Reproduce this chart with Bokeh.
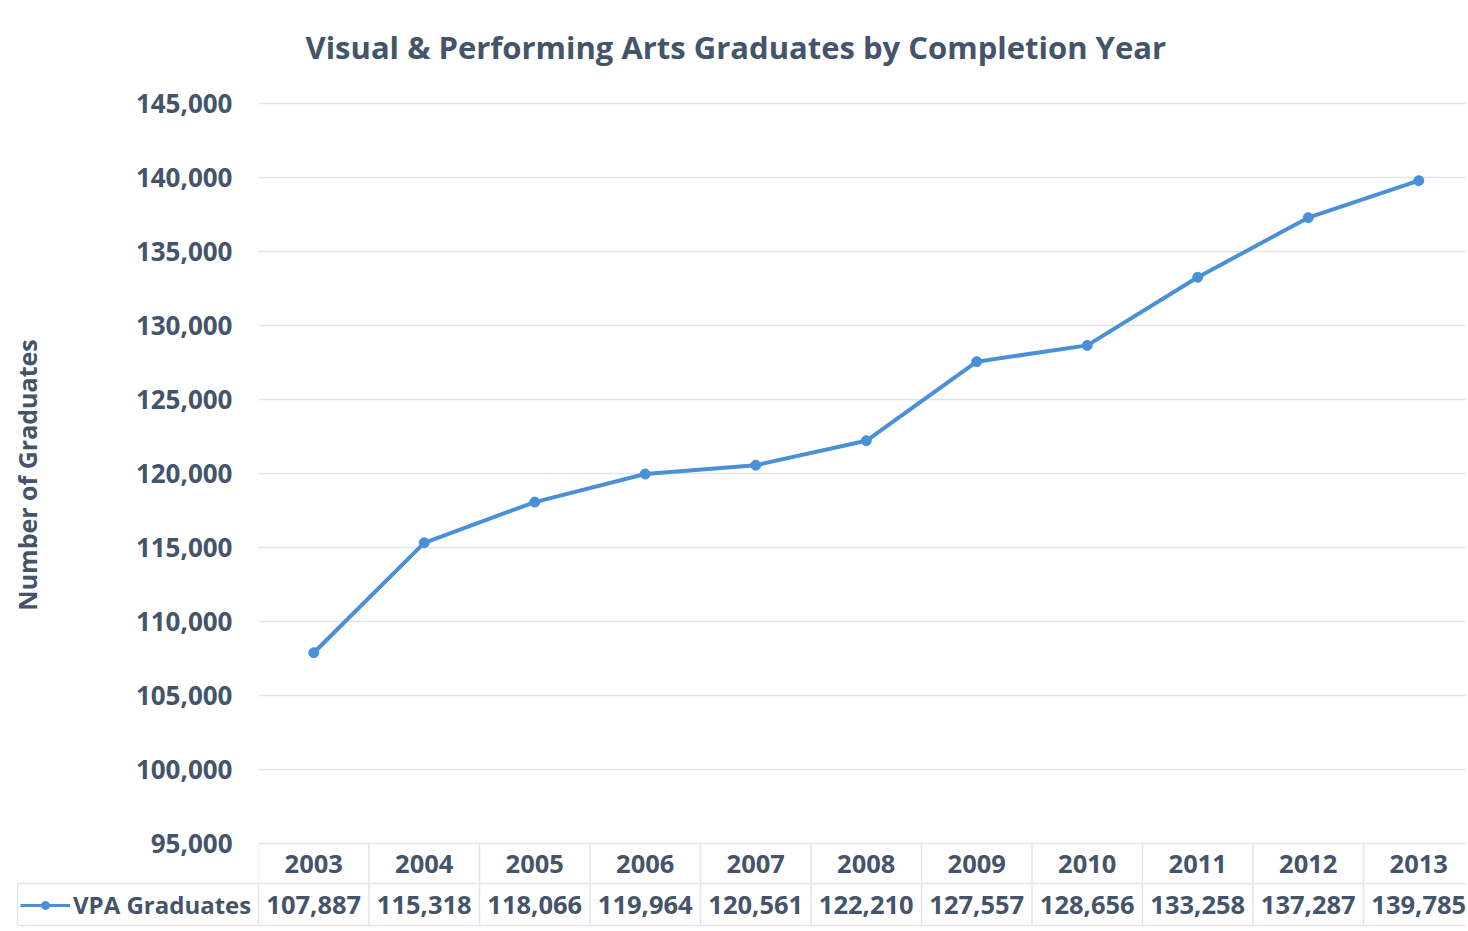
from bokeh.plotting import figure
from bokeh.models import Range1d, FixedTicker, NumeralTickFormatter, Legend, LegendItem, ColumnDataSource
from bokeh.layouts import column
from bokeh.embed import file_html
from bokeh.resources import INLINE
from bokeh.core.properties import value

# ---------------- data ----------------
years = ["2003", "2004", "2005", "2006", "2007", "2008", "2009", "2010", "2011", "2012", "2013"]
graduates = [107887, 115318, 118066, 119964, 120561, 122210, 127557, 128656, 133258, 137287, 139785]
y_ticks = [95000, 100000, 105000, 110000, 115000, 120000, 125000, 130000, 135000, 140000, 145000]
series_name = "VPA Graduates"
title_text = "Visual & Performing Arts Graduates by Completion Year"
y_label = "Number of Graduates"

# ---------------- layout / style ----------------
W = 1466
LEFT = 258            # frame left (px) of chart
CAT_PX = 110.5        # px per category column
TOP = 67              # frame top (px)
TICK_PX = 74          # px between gridlines
TOP_PAD_PX = 36       # frame top above highest gridline
H1 = 882
HEADER_PX = 39        # header row below lowest gridline inside chart frame
ROW_PX = 42           # value row height
H2 = 45
LEGEND_CELL_LEFT_PX = 17

TEXT = "#44546A"
BLUE = "#4A90D9"
GRID = "#E1E5EB"
FONT = "Open Sans"
FS = "25.5px"

idx = list(range(len(years)))
step = y_ticks[1] - y_ticks[0]
upp = step / TICK_PX
y_top = y_ticks[-1] + TOP_PAD_PX * upp
y_bot = y_ticks[0] - HEADER_PX * upp
x_end = -0.5 + (W - LEFT) / CAT_PX

# ---------------- chart ----------------
p = figure(width=W, height=H1, output_backend="svg", toolbar_location=None,
           x_range=Range1d(-0.5, x_end), y_range=Range1d(y_bot, y_top),
           min_border_left=LEFT, min_border_top=TOP, min_border_bottom=0, min_border_right=0)
p.xaxis.visible = False
p.xgrid.visible = False
p.outline_line_color = None

p.title.text = title_text
p.title.text_font = FONT
p.title.text_font_size = "31px"
p.title.text_font_style = "bold"
p.title.text_color = TEXT
p.title.align = "left"
p.title.offset = 47
p.title.standoff = 0

ax = p.yaxis[0]
ax.ticker = FixedTicker(ticks=y_ticks)
ax.formatter = NumeralTickFormatter(format="0,0")
ax.axis_line_color = None
ax.major_tick_line_color = None
ax.minor_tick_line_color = None
ax.major_tick_out = 0
ax.major_tick_in = 0
ax.major_label_standoff = 26
ax.major_label_text_font = FONT
ax.major_label_text_font_size = "26px"
ax.major_label_text_font_style = "bold"
ax.major_label_text_color = TEXT
ax.axis_label = y_label
ax.axis_label_text_font = FONT
ax.axis_label_text_font_size = "25px"
ax.axis_label_text_font_style = "bold"
ax.axis_label_text_color = TEXT
ax.axis_label_standoff = 89

p.ygrid.ticker = FixedTicker(ticks=y_ticks)
p.ygrid.grid_line_color = GRID
p.ygrid.grid_line_width = 1.5

src = ColumnDataSource(dict(x=idx, y=graduates, year=years))
p.line("x", "y", source=src, line_color=BLUE, line_width=4)
p.scatter("x", "y", source=src, size=10, fill_color=BLUE, line_color=BLUE)

# header row of the data table
hdr_y = y_ticks[0] - (HEADER_PX + 1) / 2 * upp
p.text(x="x", y=hdr_y, text="year", source=src, text_align="center", text_baseline="middle",
       text_font=value(FONT), text_font_size=FS, text_font_style="bold", text_color=TEXT)
bx = [i - 0.5 for i in range(len(years) + 1)]
p.segment(x0=bx, y0=[y_ticks[0]] * len(bx), x1=bx, y1=[y_bot] * len(bx),
          line_color=GRID, line_width=1.5)

# ---------------- value row ----------------
x2_start = -0.5 - LEFT / CAT_PX
cell_left = x2_start + LEGEND_CELL_LEFT_PX / CAT_PX
y2_start = -(H2 - 1 - ROW_PX) / ROW_PX
y2_end = 1 + 1 / ROW_PX
q = figure(width=W, height=H2, output_backend="svg", toolbar_location=None,
           x_range=Range1d(x2_start, x_end), y_range=Range1d(y2_start, y2_end),
           min_border=0, min_border_left=0, min_border_right=0, min_border_top=0, min_border_bottom=0)
q.axis.visible = False
q.grid.visible = False
q.outline_line_color = None

for fig in (p, q):
    try:
        fig.frame_align = False
    except Exception:
        pass

q.segment(x0=[cell_left, cell_left], y0=[0, 1], x1=[x_end, x_end], y1=[0, 1],
          line_color=GRID, line_width=1.5)
q.segment(x0=bx, y0=[0] * len(bx), x1=bx, y1=[y2_end] * len(bx), line_color=GRID, line_width=1.5)
q.segment(x0=[cell_left], y0=[0], x1=[cell_left], y1=[1], line_color=GRID, line_width=1.5)

vsrc = ColumnDataSource(dict(x=idx, y=graduates, label=[f"{v:,}" for v in graduates]))
q.text(x="x", y=0.5, text="label", source=vsrc, text_align="center", text_baseline="middle",
       text_font=value(FONT), text_font_size=FS, text_font_style="bold", text_color=TEXT)

# series drawn in the table strip too (out of view), used as the legend key
lr = q.line("x", "y", source=vsrc, line_color=BLUE, line_width=3)
sr = q.scatter("x", "y", source=vsrc, size=9, fill_color=BLUE, line_color=BLUE)
leg = Legend(items=[LegendItem(label=series_name, renderers=[lr, sr])],
             location=(20, 6), orientation="horizontal",
             glyph_width=50, glyph_height=20, label_standoff=3, padding=0, margin=0,
             border_line_color=None, background_fill_alpha=0,
             label_text_font=FONT, label_text_font_size="24px", label_text_font_style="bold",
             label_text_color=TEXT)
q.add_layout(leg)

layout = column(p, q, spacing=0)
open("out.html", "w").write(file_html(layout, INLINE))
